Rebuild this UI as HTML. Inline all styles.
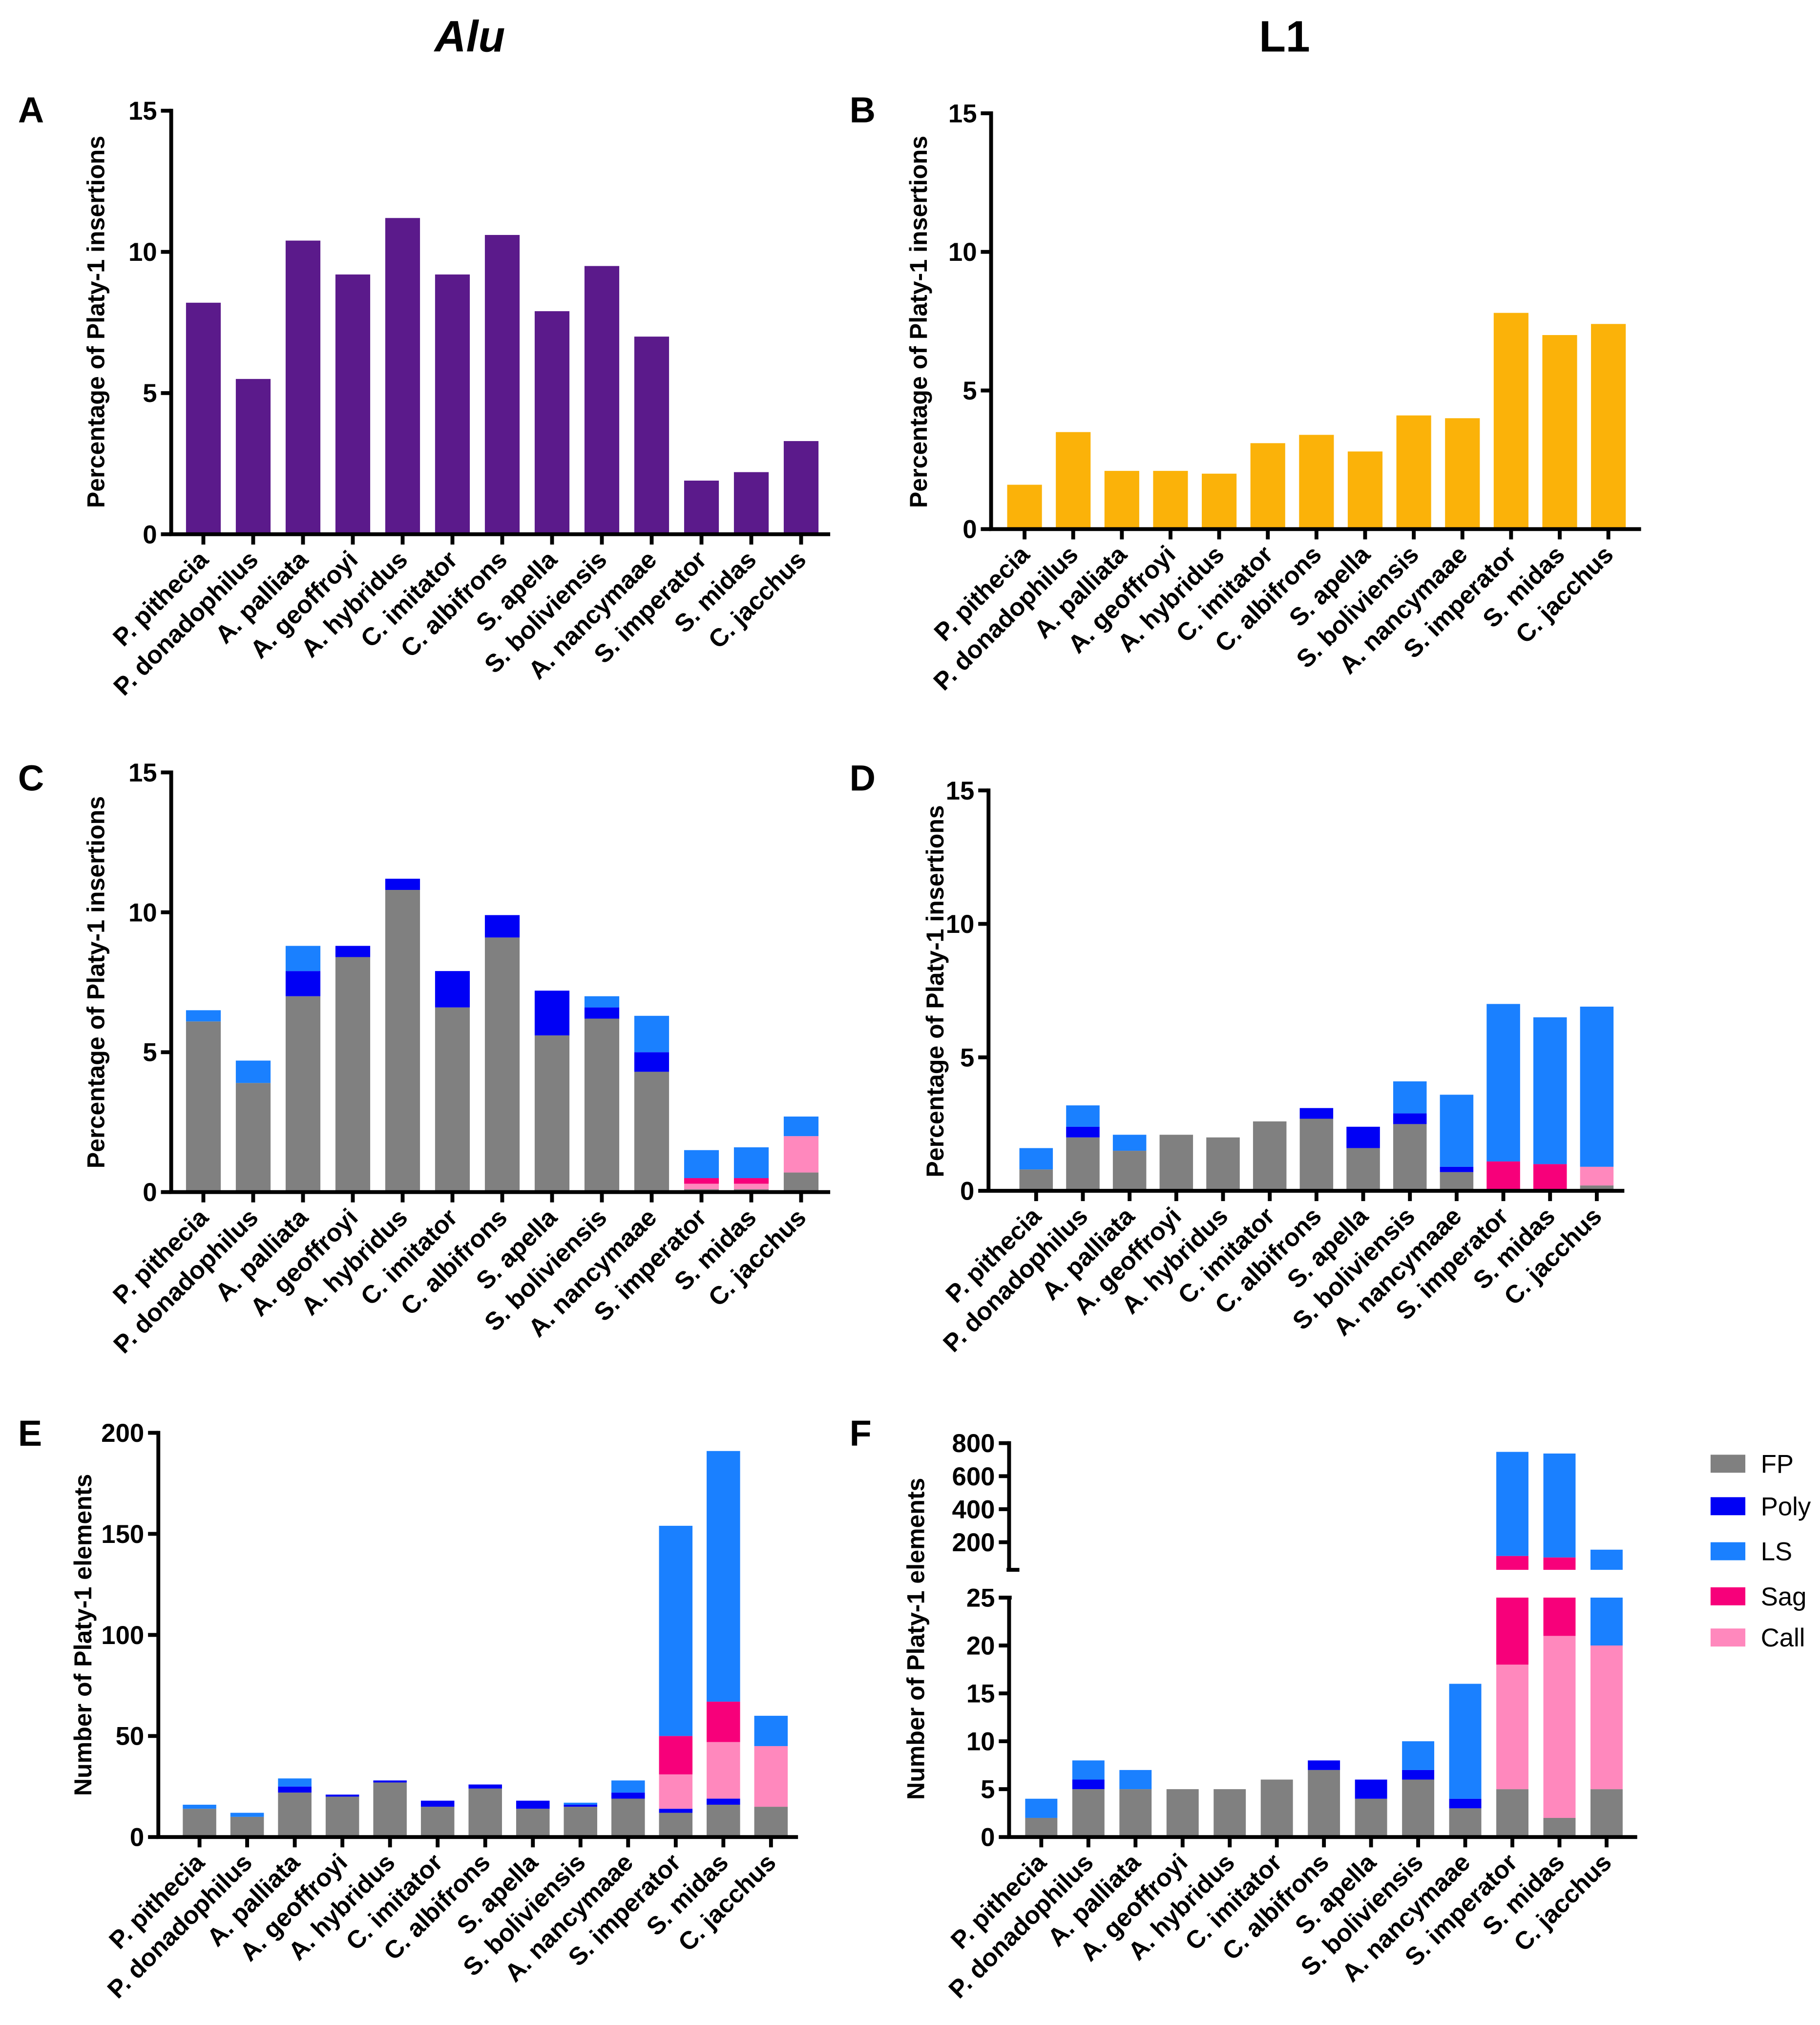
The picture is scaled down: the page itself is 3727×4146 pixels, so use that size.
<!DOCTYPE html>
<html><head><meta charset="utf-8"><style>
html,body{margin:0;padding:0;background:#fff}
svg{display:block}
text{font-family:"Liberation Sans",Arial,sans-serif;fill:#000}
</style></head><body>
<svg id="fig" width="3727" height="4146" viewBox="0 0 1414 1573" xmlns="http://www.w3.org/2000/svg">
<text x="365" y="40" font-size="34" font-weight="bold" font-style="italic" text-anchor="middle">Alu</text>
<text x="998" y="40" font-size="34" font-weight="bold" text-anchor="middle">L1</text>
<g id="legend"></g>
</svg>
<script>
const species = ["P. pithecia","P. donadophilus","A. palliata","A. geoffroyi","A. hybridus","C. imitator","C. albifrons","S. apella","S. boliviensis","A. nancymaae","S. imperator","S. midas","C. jacchus"];
const seriesNames = ["FP","Poly","Call","Sag","LS"];
const seriesColors = {FP:"#808080",Poly:"#0000f5",LS:"#1a80ff",Sag:"#f7007a",Call:"#ff88bd"};
const legendOrder = ["FP","Poly","LS","Sag","Call"];
// Panel A & B
const aluTotals = [8.2,5.5,10.4,9.2,11.2,9.2,10.6,7.9,9.5,7.0,1.9,2.2,3.3];
const l1Totals = [1.6,3.5,2.1,2.1,2.0,3.1,3.4,2.8,4.1,4.0,7.8,7.0,7.4];
// Panel C (Alu %) stacked
const cFP   = [6.1,3.9,7.0,8.4,10.8,6.6,9.1,5.6,6.2,4.3,0.1,0.1,0.7];
const cPoly = [0,0,0.9,0.4,0.4,1.3,0.8,1.6,0.4,0.7,0,0,0];
const cCall = [0,0,0,0,0,0,0,0,0,0,0.2,0.2,1.3];
const cSag  = [0,0,0,0,0,0,0,0,0,0,0.2,0.2,0];
const cLS   = [0.4,0.8,0.9,0,0,0,0,0,0.4,1.3,1.0,1.1,0.7];
// Panel D (L1 %) stacked
const dFP   = [0.8,2.0,1.5,2.1,2.0,2.6,2.7,1.6,2.5,0.7,0,0,0.2];
const dPoly = [0,0.4,0,0,0,0,0.4,0.8,0.4,0.2,0,0,0];
const dCall = [0,0,0,0,0,0,0,0,0,0,0,0,0.7];
const dSag  = [0,0,0,0,0,0,0,0,0,0,1.1,1.0,0];
const dLS   = [0.8,0.8,0.6,0,0,0,0,0,1.2,2.7,5.9,5.5,6.0];
// Panel E (Alu counts)
const eFP   = [14,10,22,20,27,15,24,14,15,19,12,16,15];
const ePoly = [0,0,3,1,1,3,2,4,1,3,2,3,0];
const eCall = [0,0,0,0,0,0,0,0,0,0,17,28,30];
const eSag  = [0,0,0,0,0,0,0,0,0,0,19,20,0];
const eLS   = [2,2,4,0,0,0,0,0,1,6,104,124,15];
// Panel F (L1 counts)
const fFP   = [2,5,5,5,5,6,7,4,6,3,5,2,5];
const fPoly = [0,1,0,0,0,0,1,2,1,1,0,0,0];
const fCall = [0,0,0,0,0,0,0,0,0,0,13,19,15];
const fSag  = [0,0,0,0,0,0,0,0,0,0,99,87,0];
const fLS   = [2,2,2,0,0,0,0,0,3,12,630,629,135];
const ticksPct = [0,5,10,15];
const ticksE = [0,50,100,150,200];
const ticksFLow = [0,5,10,15,20,25];
const ticksFHigh = [200,400,600,800];

const NS="http://www.w3.org/2000/svg";
const svg=document.getElementById('fig');
function mk(tag,attrs,parent){const e=document.createElementNS(NS,tag);for(const k in attrs)e.setAttribute(k,attrs[k]);(parent||svg).appendChild(e);return e;}

function panel(cfg){
  const g=mk('g',{});
  
  
  const lt=mk('text',{x:cfg.letterX,y:cfg.letterY,'font-size':28,'font-weight':'bold'},g);lt.textContent=cfg.letter;
  
  
  const n=species.length;
  const xc=i=>cfg.first+i*cfg.step;
  cfg.segments.forEach(seg=>{
    const yOf=seg.scale;
    for(let i=0;i<n;i++){
      let base=0;
      cfg.stack.forEach(s=>{
        const v=s.vals[i];const lo=base,hi=base+v;base=hi;
        if(v<=0)return;
        const a=Math.max(lo,seg.min),b=Math.min(hi,seg.max);
        if(b<=a)return;
        const y1=yOf(b),y2=yOf(a);
        const r=mk('rect',{x:xc(i)-cfg.bw/2,y:y1,width:cfg.bw,height:y2-y1,fill:s.color},g);
        
        
      });
    }
    const ax=mk('line',{x1:cfg.ax,x2:cfg.ax,y1:yOf(seg.min)+(seg.bottomPad||0),y2:yOf(seg.max)-1.5,stroke:'#000','stroke-width':3},g);
    
    
    seg.ticks.forEach(t=>{
      const y=yOf(t);
      mk('line',{x1:cfg.ax-8,x2:cfg.ax,y1:y,y2:y,stroke:'#000','stroke-width':3},g);
      const tx=mk('text',{x:cfg.ax-11,y:y+7,'font-size':20,'font-weight':'bold','text-anchor':'end'},g);tx.textContent=t;
      
      
    });
    if(seg.breakTop){const y=yOf(seg.max);mk('line',{x1:cfg.ax-8,x2:cfg.ax+2,y1:y,y2:y,stroke:'#000','stroke-width':3},g);}
    if(seg.breakBottom){const y=yOf(seg.min);mk('line',{x1:cfg.ax-2,x2:cfg.ax+8,y1:y,y2:y,stroke:'#000','stroke-width':3},g);}
  });
  const y0=cfg.y0;
  const xa=mk('line',{x1:cfg.ax-1.5,x2:cfg.axEnd,y1:y0,y2:y0,stroke:'#000','stroke-width':3},g);
  
  
  for(let i=0;i<n;i++){
    mk('line',{x1:xc(i),x2:xc(i),y1:y0,y2:y0+8,stroke:'#000','stroke-width':3},g);
    const t=mk('text',{x:0,y:0,'font-size':19.5,'font-weight':'bold','text-anchor':'end',transform:`translate(${xc(i)+5},${y0+21}) rotate(-45)`},g);
    t.textContent=species[i];
    
    
  }
  const yt=mk('text',{x:0,y:0,'font-size':19,'font-weight':'bold','text-anchor':'middle',transform:`translate(${cfg.titleX},${cfg.titleY}) rotate(-90)`},g);
  yt.textContent=cfg.ytitle;
  
  
}
function lin(d0,d1,p0,p1){return v=>p0+(v-d0)/(d1-d0)*(p1-p0);}
const pctT="Percentage of Platy-1 insertions", numT="Number of Platy-1 elements";
function st(a,b,c,d,e){return [{key:'FP',vals:a,color:seriesColors.FP},{key:'Poly',vals:b,color:seriesColors.Poly},{key:'Call',vals:c,color:seriesColors.Call},{key:'Sag',vals:d,color:seriesColors.Sag},{key:'LS',vals:e,color:seriesColors.LS}];}

panel({name:'panel-a',letter:'A',letterX:14,letterY:95,ax:133,axEnd:645,y0:415,first:158,step:38.7,bw:27,titleX:81,titleY:250,ytitle:pctT,
  stack:[{key:'Alu',vals:aluTotals,color:'#5b1a8b'}],
  segments:[{min:0,max:15,ticks:ticksPct,scale:lin(0,15,415,86)}]});
panel({name:'panel-b',letter:'B',letterX:660,letterY:95,ax:770,axEnd:1275,y0:411,first:796,step:37.8,bw:27,titleX:720,titleY:250,ytitle:pctT,
  stack:[{key:'L1',vals:l1Totals,color:'#fbb209'}],
  segments:[{min:0,max:15,ticks:ticksPct,scale:lin(0,15,411,88)}]});
panel({name:'panel-c',letter:'C',letterX:14,letterY:614,ax:133,axEnd:645,y0:926,first:158,step:38.7,bw:27,titleX:81,titleY:763,ytitle:pctT,
  stack:st(cFP,cPoly,cCall,cSag,cLS),
  segments:[{min:0,max:15,ticks:ticksPct,scale:lin(0,15,926,600)}]});
panel({name:'panel-d',letter:'D',letterX:660,letterY:614,ax:768,axEnd:1262,y0:925,first:805,step:36.3,bw:26,titleX:733,titleY:770,ytitle:pctT,
  stack:st(dFP,dPoly,dCall,dSag,dLS),
  segments:[{min:0,max:15,ticks:ticksPct,scale:lin(0,15,925,614)}]});
panel({name:'panel-e',letter:'E',letterX:14,letterY:1123,ax:123,axEnd:620,y0:1427,first:155,step:37,bw:26,titleX:71,titleY:1270,ytitle:numT,
  stack:st(eFP,ePoly,eCall,eSag,eLS),
  segments:[{min:0,max:200,ticks:ticksE,scale:lin(0,200,1427,1113)}]});
panel({name:'panel-f',letter:'F',letterX:660,letterY:1123,ax:784,axEnd:1272,y0:1427,first:809,step:36.6,bw:25,titleX:718,titleY:1273,ytitle:numT,
  stack:st(fFP,fPoly,fCall,fSag,fLS),
  segments:[{min:0,max:25,ticks:ticksFLow,scale:lin(0,25,1427,1241),breakTop:true},
            {min:33,max:800,ticks:ticksFHigh,scale:lin(200,800,1198,1121),breakBottom:true}]});

const lg=document.getElementById('legend');
const ly=[1137,1170,1205,1240,1272];
legendOrder.forEach((k,i)=>{
  const r=mk('rect',{x:1329,y:ly[i]-7,width:27,height:14,fill:seriesColors[k]},lg);
  
  
  const t=mk('text',{x:1368,y:ly[i]+7,'font-size':20},lg);t.textContent=k;
  
  
});
</script>
</body></html>
